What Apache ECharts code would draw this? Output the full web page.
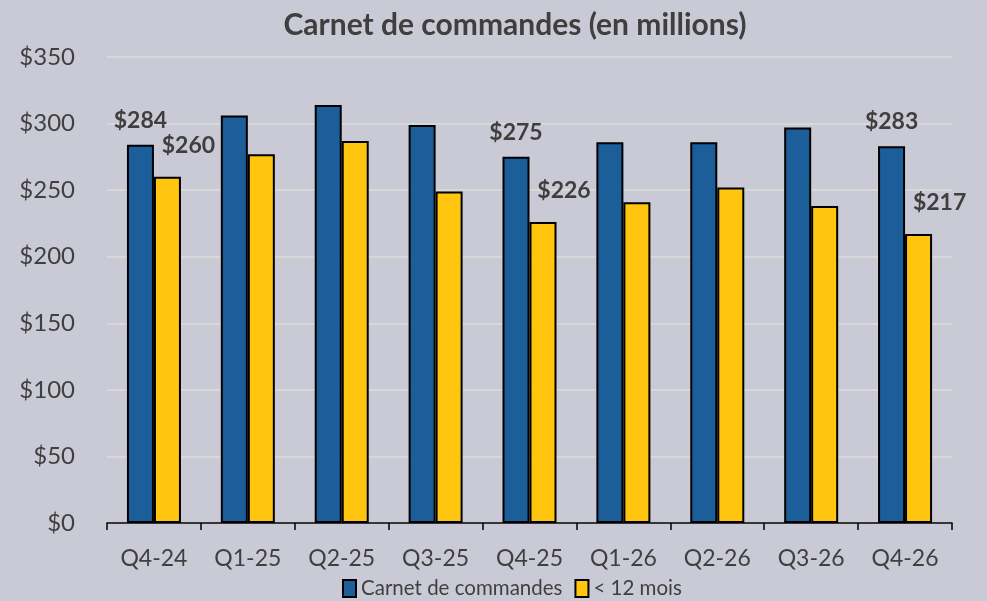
<!DOCTYPE html>
<html>
<head>
<meta charset="utf-8">
<script src="https://cdn.jsdelivr.net/npm/echarts@6/dist/echarts.min.js"></script>
<style>
  html, body { margin: 0; padding: 0; background: #CACAD6; }
  #chart { width: 987px; height: 601px; }
</style>
</head>
<body>
<div id="chart"></div>
<script>
const quarters = ['Q4-24', 'Q1-25', 'Q2-25', 'Q3-25', 'Q4-25', 'Q1-26', 'Q2-26', 'Q3-26', 'Q4-26']
const backlog = [284, 306, 314, 299, 275, 286, 286, 297, 283]
const under12 = [260, 277, 287, 249, 226, 241, 252, 238, 217]
const labelled = [0, 4, 8]
const yTicks = { min: 0, max: 350, interval: 50 }

const FONT = 'Lato'
const TEXT = '#3F3F3F'

const chart = echarts.init(document.getElementById('chart'))

const withLabels = (values, label) =>
  values.map((v, i) => labelled.includes(i) ? { value: v, label: { show: true, ...label } } : v)

const labelBase = {
  formatter: p => '$' + p.value,
  fontFamily: FONT,
  fontWeight: 'bold',
  fontSize: 23,
  color: TEXT,
  position: 'top',
}

chart.setOption({
  backgroundColor: '#CACAD6',
  title: {
    text: 'Carnet de commandes (en millions)',
    left: 510,
    textAlign: 'center',
    top: 5,
    textStyle: { fontFamily: FONT, fontWeight: 'bold', fontSize: 30, color: TEXT },
  },
  legend: {
    bottom: -3,
    left: 337,
    icon: 'rect',
    itemWidth: 13,
    itemHeight: 17,
    itemGap: 12,
    textStyle: { fontFamily: FONT, fontSize: 20.5, color: TEXT, padding: [0, 0, 0, 0] },
    data: ['Carnet de commandes', '< 12 mois'],
  },
  grid: { left: 107, right: 35, top: 57, bottom: 78, containLabel: false },
  xAxis: {
    type: 'category',
    data: quarters,
    axisLine: { lineStyle: { color: '#000', width: 1.5 } },
    axisTick: { show: true, length: 7, lineStyle: { color: '#000', width: 1.5 } },
    axisLabel: { fontFamily: FONT, fontSize: 23, color: TEXT, margin: 24 },
  },
  yAxis: {
    type: 'value',
    ...yTicks,
    axisLine: { show: false },
    axisTick: { show: false },
    splitLine: { lineStyle: { color: '#DCDCDA', width: 1.5 } },
    axisLabel: { fontFamily: FONT, fontSize: 24, color: TEXT, margin: 32, formatter: v => '$' + v },
  },
  series: [
    {
      name: 'Carnet de commandes',
      type: 'bar',
      barWidth: 27,
      barGap: '0%',
      data: withLabels(backlog, { ...labelBase, distance: 13 }),
      itemStyle: { color: '#1B5E9A', borderColor: '#000', borderWidth: 2 },
    },
    {
      name: '< 12 mois',
      type: 'bar',
      barWidth: 27,
      data: withLabels(under12, { ...labelBase, distance: 20, offset: [21, 0] }),
      itemStyle: { color: '#FFC50F', borderColor: '#000', borderWidth: 2 },
    },
  ],
})
</script>
</body>
</html>
